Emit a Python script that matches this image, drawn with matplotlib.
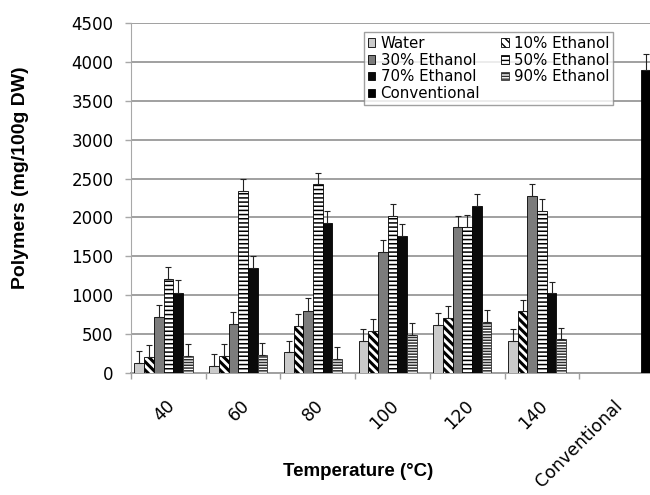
import matplotlib
matplotlib.use('Agg')
import matplotlib.pyplot as plt
import matplotlib.transforms as mtransforms
import numpy as np

plt.rcParams['font.family'] = ['DejaVu Sans']

# categories on the x axis
categories = ["40", "60", "80", "100", "120", "140", "Conventional"]

# series values (mg/100g DW), nan = no bar
water = [130, 90, 275, 415, 615, 415, np.nan]
eth10 = [210, 220, 610, 540, 705, 795, np.nan]
eth30 = [725, 625, 800, 1560, 1875, 2275, np.nan]
eth50 = [1210, 2340, 2425, 2020, 1880, 2085, np.nan]
eth70 = [1035, 1345, 1935, 1765, 2145, 1025, np.nan]
eth90 = [225, 230, 180, 490, 650, 435, np.nan]
conventional = [np.nan, np.nan, np.nan, np.nan, np.nan, np.nan, 3890]

# upper error bars
err_water = [150, 155, 140, 150, 158, 150, 0]
err_eth10 = [150, 150, 150, 150, 158, 150, 0]
err_eth30 = [150, 155, 160, 150, 146, 150, 0]
err_eth50 = [150, 150, 150, 154, 150, 150, 0]
err_eth70 = [155, 158, 150, 150, 154, 150, 0]
err_eth90 = [150, 160, 150, 158, 158, 142, 0]
err_conv = [0, 0, 0, 0, 0, 0, 210]

series = [
    ("Water", water, err_water, dict(color="#cacaca", edgecolor="black"), 1.0),
    ("10% Ethanol", eth10, err_eth10, dict(color="white", edgecolor="black", hatch="\\\\\\\\"), 2.2),
    ("30% Ethanol", eth30, err_eth30, dict(color="#7c7c7c", edgecolor="black"), 1.0),
    ("50% Ethanol", eth50, err_eth50, dict(color="white", edgecolor="black", hatch="----"), 1.1),
    ("70% Ethanol", eth70, err_eth70, dict(color="#0a0a0a", edgecolor="black"), 1.0),
    ("90% Ethanol", eth90, err_eth90, dict(color="white", edgecolor="#2e2e2e", hatch="------"), 1.1),
    ("Conventional", conventional, err_conv, dict(color="black", edgecolor="black"), 1.0),
]

fig = plt.figure(figsize=(6.5, 4.95), dpi=100)
# axes run a little past the right edge, as in the cropped original
ax = fig.add_axes([131 / 650, 122 / 495, 523 / 650, 350 / 495])

x = np.arange(len(categories))
width = 0.13
handles = {}
for i, (name, vals, errs, style, hlw) in enumerate(series):
    pos = x + (i - 3) * width
    with plt.rc_context({'hatch.linewidth': hlw}):
        bars = ax.bar(pos, vals, width, label=name, linewidth=0.6, zorder=3, **style)
        for b in bars:
            if hasattr(b, "set_hatch_linewidth"):
                b.set_hatch_linewidth(hlw)
    v = np.array(vals, dtype=float)
    e = np.array(errs, dtype=float)
    ok = ~np.isnan(v)
    ax.errorbar(pos[ok], v[ok], yerr=[np.zeros(ok.sum()), e[ok]],
                fmt="none", ecolor="#222222", elinewidth=0.8, capsize=2.5, capthick=0.8, zorder=4)
    handles[name] = bars

ax.set_ylim(0, 4500)
ax.set_xlim(-0.5, 6.5)
ax.set_yticks(np.arange(0, 4501, 500))
ax.yaxis.grid(True, color="#a0a0a0", linewidth=1.4, zorder=0)
ax.set_axisbelow(True)

for side in ["top", "right"]:
    ax.spines[side].set_visible(False)
ax.spines["left"].set_color("#a8a8a8")
ax.spines["bottom"].set_color("#a0a0a0")
ax.spines["bottom"].set_linewidth(1.4)

ax.tick_params(axis="y", length=4.5, width=1.0, color="#a8a8a8", pad=8, labelsize=12)
ax.set_xticks(x)
ax.set_xticklabels(categories, rotation=45, ha="right", va="top", rotation_mode="anchor", fontsize=12.5)
ax.tick_params(axis="x", which="major", length=0, pad=17)
ax.set_xticks(np.arange(-0.5, 7, 1), minor=True)
ax.tick_params(axis="x", which="minor", length=4, color="#a0a0a0", width=1.0)
shift = mtransforms.ScaledTranslation(-3 / 100, 0, fig.dpi_scale_trans)
for lab in ax.get_xticklabels():
    lab.set_transform(lab.get_transform() + shift)

ax.set_xlabel("Temperature (°C)", fontsize=13.5, fontweight="bold", family="Liberation Sans")
ax.xaxis.set_label_coords((358 - 131) / 523, -(472 - 373) / 350)
ax.xaxis.label.set_va("center")
ax.set_ylabel("Polymers (mg/100g DW)", fontsize=14, fontweight="bold", family="Liberation Sans")
ax.yaxis.set_label_coords((21 - 131) / 523, (373 - 178) / 350)
ax.yaxis.label.set_va("center")

# legend fills row by row in the original
order = ["Water", "30% Ethanol", "70% Ethanol", "Conventional", "10% Ethanol", "50% Ethanol", "90% Ethanol"]
leg = ax.legend([handles[n] for n in order], order, ncol=2, loc="upper left",
                bbox_to_anchor=(364 / 650, 1 - 32 / 495), bbox_transform=fig.transFigure,
                fontsize=10.8, frameon=True, fancybox=False, edgecolor="#888888",
                handlelength=0.5, handleheight=0.5, handletextpad=0.35, labelspacing=0.12,
                columnspacing=1.4, borderpad=0.25, borderaxespad=0)
leg.get_frame().set_linewidth(1.0)
leg.set_zorder(5)

plt.savefig("out.png", dpi=100)
